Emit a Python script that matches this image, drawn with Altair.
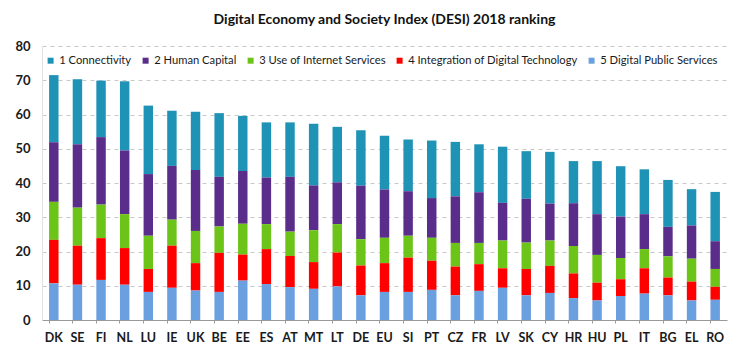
import altair as alt
import pandas as pd

countries = ["DK", "SE", "FI", "NL", "LU", "IE", "UK", "BE", "EE", "ES", "AT", "MT", "LT", "DE", "EU",
             "SI", "PT", "CZ", "FR", "LV", "SK", "CY", "HR", "HU", "PL", "IT", "BG", "EL", "RO"]

connectivity = [19.6, 19.0, 16.5, 20.2, 20.0, 16.1, 17.0, 18.6, 16.1, 16.1, 15.9, 18.0, 16.2, 16.2, 15.7,
                15.1, 16.8, 15.9, 14.0, 16.4, 13.9, 15.1, 12.3, 15.5, 14.7, 13.1, 13.7, 10.6, 14.4]
human_capital = [17.4, 18.5, 19.7, 18.6, 18.0, 15.7, 17.8, 14.5, 15.4, 13.6, 16.0, 13.1, 12.2, 15.6, 14.1,
                 13.0, 11.6, 13.6, 14.8, 11.0, 12.8, 10.8, 12.5, 11.9, 12.1, 10.2, 8.6, 9.7, 8.1]
use_internet = [11.1, 11.1, 9.8, 9.9, 9.7, 7.6, 9.4, 7.7, 9.0, 7.3, 7.1, 9.3, 8.3, 7.7, 7.4,
                6.4, 6.7, 6.9, 6.2, 8.1, 7.7, 7.4, 8.0, 8.1, 6.2, 5.6, 6.2, 6.7, 5.2]
integration = [12.7, 11.4, 12.2, 10.7, 6.7, 12.3, 8.0, 11.4, 7.6, 10.2, 9.1, 7.8, 9.9, 8.7, 8.4,
               10.0, 8.5, 8.4, 7.8, 5.7, 7.7, 7.9, 7.2, 5.2, 4.9, 7.4, 5.2, 5.5, 3.8]
public_services = [10.7, 10.3, 11.7, 10.3, 8.2, 9.4, 8.6, 8.2, 11.5, 10.5, 9.6, 9.1, 9.8, 7.2, 8.2,
                   8.2, 8.8, 7.2, 8.5, 9.4, 7.2, 7.9, 6.4, 5.7, 7.0, 7.7, 7.2, 5.7, 5.9]

dimensions = ["1 Connectivity", "2 Human Capital", "3 Use of Internet Services",
              "4 Integration of Digital Technology", "5 Digital Public Services"]
colors = ["#1f93b5", "#5a2d8a", "#6cc418", "#ff0000", "#6a9fe0"]
y_ticks = [0, 10, 20, 30, 40, 50, 60, 70, 80]

series = [connectivity, human_capital, use_internet, integration, public_services]
rows = []
for d_idx, (dim, vals) in enumerate(zip(dimensions, series)):
    for c, v in zip(countries, vals):
        rows.append({"country": c, "dimension": dim, "value": v, "stack": 4 - d_idx})
df = pd.DataFrame(rows)

chart = alt.Chart(df).mark_bar().encode(
    x=alt.X("country:N", sort=countries, title=None,
            scale=alt.Scale(paddingInner=0.6, paddingOuter=0.3),
            axis=alt.Axis(labelAngle=0, labelFont="Lato", labelFontSize=12.5, labelFontWeight="bold",
                          labelColor="#1a1a1a", labelPadding=8, domainColor="#9a9a9a", tickColor="#9a9a9a",
                          tickSize=3, bandPosition=0, grid=False)),
    y=alt.Y("value:Q", stack="zero", title=None,
            scale=alt.Scale(domain=[0, 80], nice=False),
            axis=alt.Axis(values=y_ticks, labelFont="Lato", labelFontSize=13, labelFontWeight="bold",
                          labelColor="#1a1a1a", labelPadding=12, domainColor="#e0e0e0", ticks=False,
                          grid=True, gridColor="#c8c8c8", gridDash=[4, 4], gridWidth=1)),
    color=alt.Color("dimension:N",
                    scale=alt.Scale(domain=dimensions, range=colors),
                    legend=alt.Legend(title=None, orient="none", legendX=3, legendY=9,
                                      direction="horizontal", symbolType="square", symbolSize=36,
                                      symbolStrokeWidth=0, labelFont="Lato", labelFontSize=11.2,
                                      labelColor="#1a1a1a", labelOffset=3, columnPadding=8,
                                      labelLimit=300)),
    order=alt.Order("stack:Q", sort="ascending"),
).properties(
    width=685,
    height=274,
    title=alt.TitleParams("Digital Economy and Society Index (DESI) 2018 ranking",
                          font="Lato", fontSize=14, fontWeight="bold", color="#111111",
                          anchor="middle", offset=13),
    autosize=alt.AutoSizeParams(type="none"),
    padding={"left": 34, "top": 38, "right": 5, "bottom": 35},
).configure_view(stroke=None)

chart.save("out.html", embed_options={"renderer": "svg", "actions": False})
